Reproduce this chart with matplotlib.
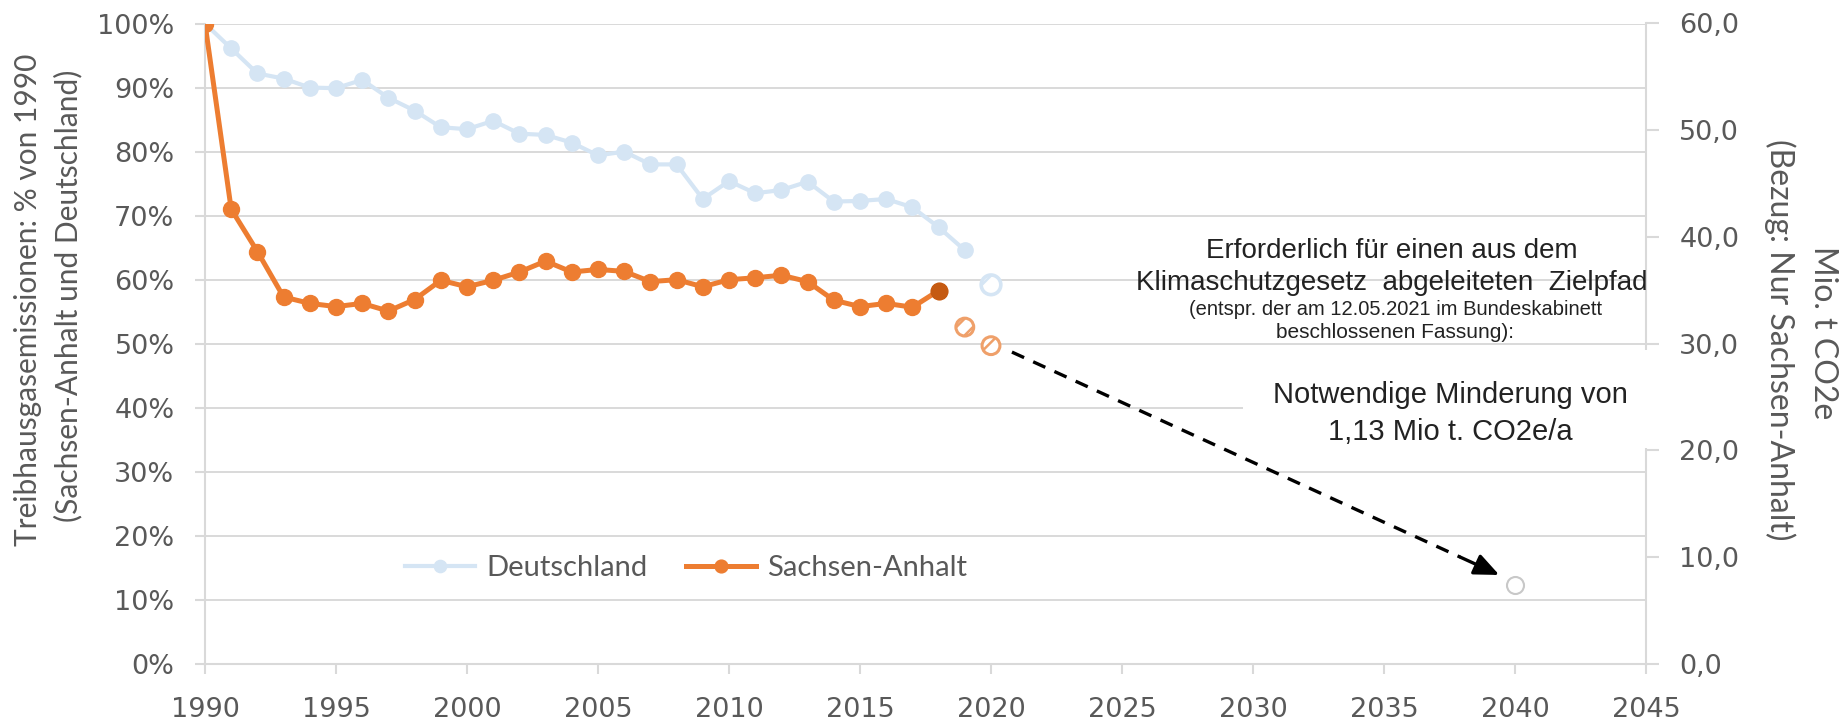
import matplotlib
matplotlib.use("Agg")
import matplotlib.pyplot as plt
from matplotlib.patches import Rectangle
from matplotlib.ticker import FuncFormatter

# ---------------- data ----------------
years_de = list(range(1990, 2020))
de_values = [100, 96.1, 92.2, 91.4, 90.0, 89.9, 91.2, 88.4, 86.4, 83.8,
             83.5, 84.8, 82.8, 82.6, 81.4, 79.4, 80.0, 78.0, 78.0, 72.6,
             75.4, 73.5, 74.0, 75.3, 72.2, 72.3, 72.6, 71.3, 68.2, 64.6]
de_target_year = [2020]
de_target_value = [59.2]

years_st = list(range(1990, 2019))
st_values = [100, 71.0, 64.4, 57.3, 56.3, 55.8, 56.3, 55.1, 56.9, 59.9,
             58.9, 59.9, 61.2, 62.9, 61.2, 61.6, 61.3, 59.7, 60.0, 58.9,
             60.0, 60.3, 60.7, 59.7, 56.8, 55.8, 56.3, 55.7, 58.3]
st_proj_years = [2019, 2020]
st_proj_values = [52.6, 49.7]
target_year = [2040]
target_value = [12.3]

arrow_start = (2020.8, 48.7)
arrow_end = (2039.4, 13.9)

x_ticks = list(range(1990, 2046, 5))
left_ticks = list(range(0, 101, 10))
right_ticks = list(range(0, 61, 10))

# ---------------- style ----------------
W, H = 1849, 728
ORANGE = "#ED7D31"
DARK_ORANGE = "#C55A11"
LIGHT_BLUE = "#D5E5F4"
GRID = "#D9D9D9"
TXT = "#595959"

def fx(px):
    return px / W

def fy(py):
    return 1 - py / H

plt.rcParams["hatch.linewidth"] = 1.8
fig = plt.figure(figsize=(W / 100, H / 100), dpi=100)
ax = fig.add_axes([fx(205), fy(664), fx(1646) - fx(205), fy(23.5) - fy(664)])

ax.set_xlim(1990, 2045)
ax.set_ylim(0, 100)
ax.set_yticks(left_ticks)
ax.set_xticks(x_ticks)
ax.yaxis.set_major_formatter(FuncFormatter(lambda v, p: f"{int(round(v))}%"))
ax.grid(axis="y", color=GRID, lw=1.4, zorder=0)
ax.set_axisbelow(True)
for s in ["top", "right"]:
    ax.spines[s].set_visible(False)
for s in ["left", "bottom"]:
    ax.spines[s].set_color(GRID)
    ax.spines[s].set_linewidth(1.5)
ax.tick_params(axis="both", colors=GRID, labelcolor=TXT, labelsize=19.5, width=1.5)
ax.tick_params(axis="x", length=7, pad=17, direction="out")
ax.tick_params(axis="y", length=7, pad=15, direction="out")
for lab in ax.get_xticklabels() + ax.get_yticklabels():
    lab.set_family("DejaVu Sans")

# series
ax.plot(years_de, de_values, color=LIGHT_BLUE, lw=3.0, marker="o", ms=11,
        mfc=LIGHT_BLUE, mec=LIGHT_BLUE, zorder=3, label="Deutschland")
ax.plot(years_st, st_values, color=ORANGE, lw=3.6, marker="o", ms=11.5,
        mfc=ORANGE, mec=ORANGE, zorder=4, label="Sachsen-Anhalt")
ax.plot(years_st[-1:], st_values[-1:], ls="none", marker="o", ms=12,
        mfc=DARK_ORANGE, mec=DARK_ORANGE, zorder=5)

ax.scatter(de_target_year, de_target_value, s=200, facecolors="white",
           edgecolors=LIGHT_BLUE, linewidths=2.6, hatch="/", zorder=5)
ax.scatter(st_proj_years, st_proj_values, s=165, facecolors="white",
           edgecolors="#EFA06A", linewidths=2.2, hatch="//", zorder=5)
ax.scatter(target_year, target_value, s=150, facecolors="white",
           edgecolors="#C8C8C8", linewidths=1.5, zorder=5)

# dashed arrow
frac = 0.92
mid = (arrow_start[0] + frac * (arrow_end[0] - arrow_start[0]),
       arrow_start[1] + frac * (arrow_end[1] - arrow_start[1]))
ax.plot([arrow_start[0], mid[0]], [arrow_start[1], mid[1]], color="black",
        lw=2.4, ls=(0, (4, 3)), zorder=6, dash_capstyle="butt")
ax.annotate("", xy=arrow_end, xytext=mid,
            arrowprops=dict(arrowstyle="-|>,head_length=1.5,head_width=0.65",
                            color="black", lw=2.4, shrinkA=0, shrinkB=0), zorder=6)

# legend
leg = ax.legend(loc="center left", bbox_to_anchor=((405 - 205) / 1441, (664 - 568) / 640.5),
                ncol=2, frameon=False, handlelength=2.4, handletextpad=0.4,
                columnspacing=1.3, borderpad=0, borderaxespad=0,
                prop={"family": "Lato", "size": 21}, markerscale=0.8)
for t in leg.get_texts():
    t.set_color(TXT)

# right axis
ax2 = ax.twinx()
ax2.set_ylim(0, 60)
ax2.set_yticks(right_ticks)
ax2.yaxis.set_major_formatter(FuncFormatter(lambda v, p: f"{v:.1f}".replace(".", ",")))
for s in ["top", "left", "bottom"]:
    ax2.spines[s].set_visible(False)
ax2.spines["right"].set_color(GRID)
ax2.spines["right"].set_linewidth(1.5)
ax2.tick_params(axis="y", colors=GRID, labelcolor=TXT, labelsize=19.5, length=9,
                width=1.5, pad=15)
for lab in ax2.get_yticklabels():
    lab.set_family("DejaVu Sans")

# axis titles
fig.text(fx(28), fy(300), "Treibhausgasemissionen: % von 1990", rotation=90,
         ha="center", va="center", fontsize=21.5, color=TXT, family="Lato")
fig.text(fx(68), fy(296), "(Sachsen-Anhalt und Deutschland)", rotation=90,
         ha="center", va="center", fontsize=21.5, color=TXT, family="Lato")
fig.text(fx(1823), fy(333), "Mio. t CO2e", rotation=270,
         ha="center", va="center", fontsize=23, color=TXT, family="Lato")
fig.text(fx(1780), fy(340), "(Bezug: Nur Sachsen-Anhalt)", rotation=270,
         ha="center", va="center", fontsize=23, color=TXT, family="Lato")

# white box behind second annotation (hides grid + spine)
fig.add_artist(Rectangle((fx(1243), fy(448)), fx(1662) - fx(1243), fy(350) - fy(448),
                         transform=fig.transFigure, facecolor="white",
                         edgecolor="none", zorder=1))

ANN = "#222222"
fig.text(fx(1392), fy(258), "Erforderlich für einen aus dem", ha="center",
         va="baseline", fontsize=20, family="Liberation Sans", color=ANN, zorder=3)
fig.text(fx(1392), fy(290), "Klimaschutzgesetz  abgeleiteten  Zielpfad", ha="center",
         va="baseline", fontsize=20, family="Liberation Sans", color=ANN, zorder=3)
fig.text(fx(1396), fy(315), "(entspr. der am 12.05.2021 im Bundeskabinett", ha="center",
         va="baseline", fontsize=14.5, family="Liberation Sans", color=ANN, zorder=3)
fig.text(fx(1395), fy(338), "beschlossenen Fassung):", ha="center",
         va="baseline", fontsize=15, family="Liberation Sans", color=ANN, zorder=3)
fig.text(fx(1450), fy(403), "Notwendige Minderung von", ha="center",
         va="baseline", fontsize=21, family="Liberation Sans", color=ANN, zorder=3)
fig.text(fx(1450), fy(440), "1,13 Mio t. CO2e/a", ha="center",
         va="baseline", fontsize=21, family="Liberation Sans", color=ANN, zorder=3)

fig.savefig("out.png", dpi=100, facecolor="white")
